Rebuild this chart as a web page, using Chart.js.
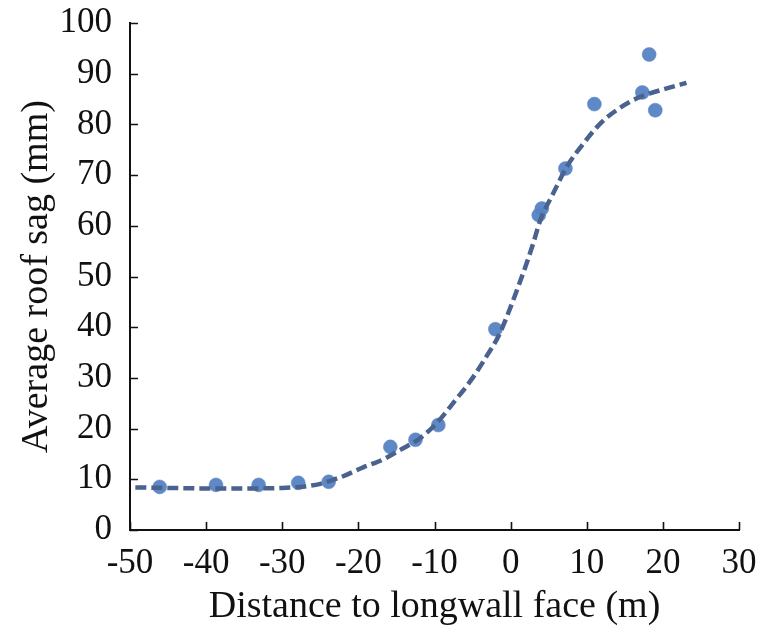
<!DOCTYPE html>
<html>
<head>
<meta charset="utf-8">
<script src="https://cdn.jsdelivr.net/npm/chart.js@4/dist/chart.umd.min.js"></script>
<style>
  html, body { margin: 0; padding: 0; background: #fff; }
  #wrap { width: 768px; height: 635px; position: relative; }
</style>
</head>
<body>
<div id="wrap"><canvas id="c" width="768" height="635"></canvas></div>
<script>
// Measured data (distance to longwall face, m ; average roof sag, mm)
const measuredX = [-46.1, -38.7, -33.1, -27.9, -23.9, -15.8, -12.5, -9.5, -2.0, 3.7, 4.1, 7.2, 11.0, 17.3, 18.2, 19.0];
const measuredY = [8.5, 8.9, 8.9, 9.3, 9.5, 16.4, 17.8, 20.7, 39.6, 62.1, 63.4, 71.3, 84.0, 86.3, 93.8, 82.8];

// Fitted curve
const fitX = [-49.3, -45, -40, -35, -30, -27, -25, -23.5, -22, -19.3, -16.9, -14.5, -11.9, -9.7, -7.3, -4.9, -2.9, -1.6, -0.1, 1.0, 2.1, 3.0, 3.9, 5.6, 7.4, 9.6, 11.8, 13.9, 16.1, 18.3, 20.5, 23.1];
const fitY = [8.4, 8.3, 8.2, 8.2, 8.3, 8.6, 9.1, 9.8, 10.6, 12.4, 13.8, 15.8, 18.1, 21.1, 25.5, 30.2, 34.9, 38.2, 43.6, 48.0, 52.6, 56.7, 61.1, 66.4, 71.7, 76.3, 80.2, 82.8, 84.8, 86.1, 87.1, 88.2];

const xTicks = [-50, -40, -30, -20, -10, 0, 10, 20, 30];
const yTicks = [0, 10, 20, 30, 40, 50, 60, 70, 80, 90, 100];

const xTitle = 'Distance to longwall face (m)';
const yTitle = 'Average roof sag (mm)';

const FONT = '"Liberation Serif", "Times New Roman", serif';

const inwardTicks = {
  id: 'inwardTicks',
  afterDraw(chart) {
    const ctx = chart.ctx;
    const xs = chart.scales.x, ys = chart.scales.y;
    const a = chart.chartArea;
    ctx.save();
    ctx.strokeStyle = '#111';
    ctx.lineWidth = 1.6;
    ctx.beginPath();
    xTicks.forEach(v => {
      const px = Math.round(xs.getPixelForValue(v)) + 0.5;
      ctx.moveTo(px, a.bottom);
      ctx.lineTo(px, a.bottom - 8);
    });
    yTicks.forEach(v => {
      const py = Math.round(ys.getPixelForValue(v)) + 0.5;
      ctx.moveTo(a.left, py);
      ctx.lineTo(a.left + 8, py);
    });
    ctx.stroke();
    ctx.restore();
  }
};

new Chart(document.getElementById('c'), {
  type: 'scatter',
  data: {
    datasets: [
      {
        label: 'Fit',
        data: fitX.map((x, i) => ({ x: x, y: fitY[i] })),
        showLine: true,
        borderColor: '#4a628f',
        borderWidth: 4.5,
        borderDash: [11, 5],
        pointRadius: 0,
        fill: false,
        cubicInterpolationMode: 'monotone'
      },
      {
        label: 'Measured',
        data: measuredX.map((x, i) => ({ x: x, y: measuredY[i] })),
        showLine: false,
        pointRadius: 7,
        pointBackgroundColor: 'rgba(86,131,195,0.95)',
        pointBorderColor: 'rgba(86,131,195,0.95)',
        pointBorderWidth: 0.5
      }
    ]
  },
  options: {
    responsive: false,
    animation: false,
    clip: false,
    layout: { padding: { left: 0, right: 29, top: 23, bottom: 0 } },
    plugins: { legend: { display: false }, tooltip: { enabled: false } },
    scales: {
      x: {
        type: 'linear',
        min: -50, max: 30,
        afterBuildTicks: s => { s.ticks = xTicks.map(v => ({ value: v })); },
        afterFit: s => { s.height = 105; s.paddingLeft = 0; s.paddingRight = 0; },
        grid: { display: false, tickLength: 0, drawTicks: false },
        border: { display: true, color: '#111', width: 2 },
        ticks: { color: '#111', font: { family: FONT, size: 35, lineHeight: 1.2 }, padding: 13, maxRotation: 0 },
        title: { display: true, text: xTitle, color: '#111', font: { family: FONT, size: 38, lineHeight: 1.2 }, padding: { top: 0, bottom: 5 } }
      },
      y: {
        type: 'linear',
        min: 0, max: 100,
        afterBuildTicks: s => { s.ticks = yTicks.map(v => ({ value: v })); },
        afterFit: s => { s.width = 130; s.paddingTop = 0; s.paddingBottom = 0; },
        grid: { display: false, tickLength: 0, drawTicks: false },
        border: { display: true, color: '#111', width: 2 },
        ticks: { color: '#111', font: { family: FONT, size: 35, lineHeight: 1.2 }, padding: 18 },
        title: { display: true, text: yTitle, color: '#111', font: { family: FONT, size: 38, lineHeight: 1.2 }, padding: { top: 14, bottom: 0 } }
      }
    }
  },
  plugins: [inwardTicks]
});
</script>
</body>
</html>
